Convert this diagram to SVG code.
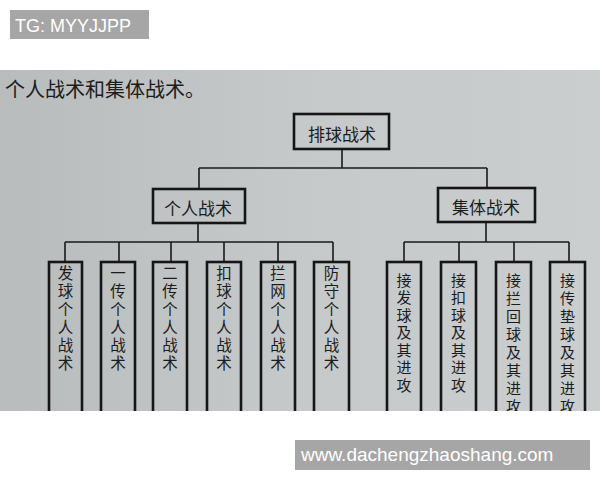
<svg xmlns="http://www.w3.org/2000/svg" width="600" height="480" viewBox="0 0 600 480">
<style>
.lbl{font-family:"Liberation Sans",Arial,sans-serif;fill:#ffffff}
.cn{font-family:"Noto Sans CJK SC","Noto Sans CJK TC",sans-serif;fill:#1c1c1c;text-anchor:middle;dominant-baseline:central}
.v{font-family:"Noto Sans CJK SC","Noto Sans CJK TC",sans-serif;fill:#1c1c1c;writing-mode:vertical-rl;text-anchor:start}
.box{fill:none;stroke:#161616;stroke-width:2.6}
.conn{fill:none;stroke:#1a1a1a;stroke-width:1.6}
.l{font-size:15.5px;letter-spacing:2.5px}
.r{font-size:15px;letter-spacing:2.5px}
.r2{font-size:15px;letter-spacing:3px}
</style>
<defs>
<linearGradient id="paper" x1="0" y1="0" x2="1" y2="0">
<stop offset="0" stop-color="#b9bcbd"/>
<stop offset="0.5" stop-color="#c6c9ca"/>
<stop offset="1" stop-color="#cbcecf"/>
</linearGradient>
<clipPath id="photo"><rect x="0" y="70" width="600" height="341"/></clipPath>
</defs>
<rect width="600" height="480" fill="#ffffff"/>
<g id="tag">
<rect x="10" y="10" width="139" height="29" fill="#a6a6a6"/>
<text class="lbl" x="15" y="32" font-size="18">TG: MYYJJPP</text>
</g>
<rect x="0" y="70" width="600" height="341" fill="url(#paper)"/>
<g clip-path="url(#photo)">
<text class="cn" x="5" y="88" style="text-anchor:start;font-size:20px">个人战术和集体战术。</text>
<g id="connectors">
<path class="conn" d="M342 149V168M199 168H487M199 168V189M487 168V188"/>
<path class="conn" d="M198 223V242M65 242H333M65 242V262M119 242V262M171 242V262M224 242V262M278 242V262M333 242V262"/>
<path class="conn" d="M486 222V242M404 242H569M404 242V262M459 242V262M514 242V262M569 242V262"/>
</g>
<g id="root"><rect class="box" x="294" y="114" width="95" height="35"/><text class="cn" x="342" y="133" font-size="17">排球战术</text></g>
<g id="personal"><rect class="box" x="153" y="189" width="92" height="34"/><text class="cn" x="198" y="207" font-size="17">个人战术</text></g>
<g id="collective"><rect class="box" x="438" y="188" width="97" height="34"/><text class="cn" x="486" y="206" font-size="17">集体战术</text></g>
<g id="p1"><rect class="box" x="49" y="262" width="33" height="170"/><text class="v l" x="65.5" y="265">发球个人战术</text></g>
<g id="p2"><rect class="box" x="101" y="262" width="34" height="170"/><text class="v l" x="118" y="265">一传个人战术</text></g>
<g id="p3"><rect class="box" x="153" y="262" width="34" height="170"/><text class="v l" x="170" y="265">二传个人战术</text></g>
<g id="p4"><rect class="box" x="207" y="262" width="34" height="170"/><text class="v l" x="224" y="265">扣球个人战术</text></g>
<g id="p5"><rect class="box" x="261" y="262" width="34" height="170"/><text class="v l" x="278" y="265">拦网个人战术</text></g>
<g id="p6"><rect class="box" x="314" y="262" width="35" height="170"/><text class="v l" x="331.5" y="265">防守个人战术</text></g>
<g id="c1"><rect class="box" x="387" y="262" width="34" height="170"/><text class="v r" x="404" y="272.5">接发球及其进攻</text></g>
<g id="c2"><rect class="box" x="441" y="262" width="35" height="170"/><text class="v r" x="458.5" y="272.5">接扣球及其进攻</text></g>
<g id="c3"><rect class="box" x="496" y="262" width="35" height="170"/><text class="v r2" x="513.5" y="272.5">接拦回球及其进攻</text></g>
<g id="c4"><rect class="box" x="550" y="262" width="35" height="170"/><text class="v r2" x="567.5" y="272.5">接传垫球及其进攻</text></g>
</g>
<g id="watermark">
<rect x="295" y="440" width="295" height="30" fill="#a6a6a6"/>
<text class="lbl" x="301" y="461" font-size="19">www.dachengzhaoshang.com</text>
</g>
</svg>
